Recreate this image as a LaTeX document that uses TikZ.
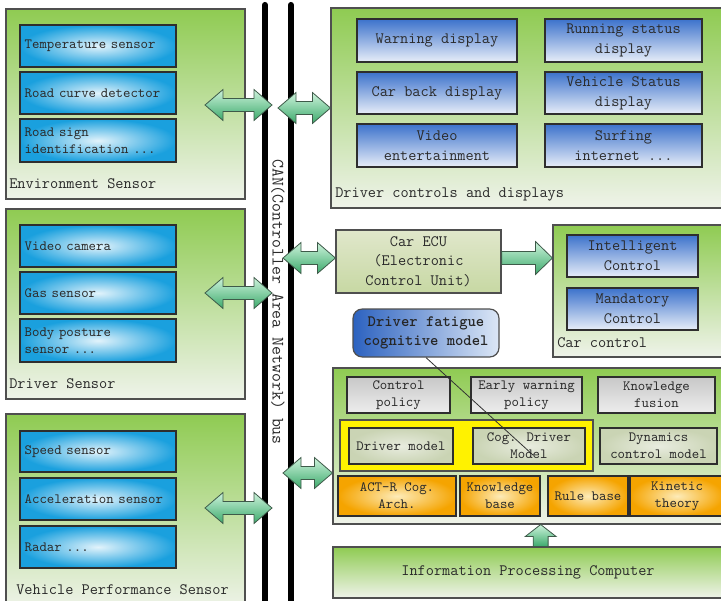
\documentclass[tikz,border=0pt]{standalone}
\usepackage{fontspec}
\usetikzlibrary{calc}

% palette
\definecolor{panelTop}{HTML}{8FCB52}
\definecolor{panelBot}{HTML}{EFF3EA}
\definecolor{panelLine}{HTML}{4F4F4F}
\definecolor{boxLine}{HTML}{2E2E2E}
\definecolor{sensorOut}{HTML}{1AA0DE}
\definecolor{sensorIn}{HTML}{E2F3FB}
\definecolor{dispTop}{HTML}{3C72CC}
\definecolor{dispBot}{HTML}{E8EEF8}
\definecolor{ecuTop}{HTML}{E0E7CB}
\definecolor{ecuBot}{HTML}{C7D8A3}
\definecolor{grayTop}{HTML}{C8C8C8}
\definecolor{grayBot}{HTML}{EDEDED}
\definecolor{sageOut}{HTML}{CAD4B4}
\definecolor{sageIn}{HTML}{E8ECDF}
\definecolor{orangeOut}{HTML}{F5A400}
\definecolor{orangeIn}{HTML}{FDEBB8}
\definecolor{fatLeft}{HTML}{2C62C0}
\definecolor{fatRight}{HTML}{DCE7F6}
\definecolor{arrowTop}{HTML}{CDF3DC}
\definecolor{arrowBot}{HTML}{3DAA6C}
\definecolor{arrowLine}{HTML}{3E5A49}
\definecolor{labelText}{HTML}{2A2A2A}

\newcommand\txtsmall{\ttfamily\fontsize{10.6}{12.8}\selectfont}
\newcommand\txtlarge{\ttfamily\fontsize{11.9}{14.8}\selectfont}

% box from (x1,y1) to (x2,y2): #1 style, #2 name, #3..#6 corners, #7 text
\newcommand\mkbox[7]{%
  \node[#1, minimum width={(#5-#3)*0.75pt}, minimum height={(#6-#4)*0.75pt}]
    (#2) at ({(#3+#5)/2},{(#4+#6)/2}) {#7};}

% horizontal two-headed block arrow between two points
\newcommand\dblarrow[2]{%
  \path[blockarrow] let \p1=(#1), \p2=(#2) in
    (\x1,\y1) -- (\x1+13.5pt,\y1+11.6pt) -- (\x1+13.5pt,\y1+4.9pt)
    -- (\x2-13.5pt,\y1+4.9pt) -- (\x2-13.5pt,\y1+11.6pt) -- (\x2,\y1)
    -- (\x2-13.5pt,\y1-11.6pt) -- (\x2-13.5pt,\y1-4.9pt)
    -- (\x1+13.5pt,\y1-4.9pt) -- (\x1+13.5pt,\y1-11.6pt) -- cycle;}

% horizontal one-headed block arrow, pointing to the second point
\newcommand\rarrow[2]{%
  \path[blockarrow] let \p1=(#1), \p2=(#2) in
    (\x1,\y1+4.9pt) -- (\x2-12.8pt,\y1+4.9pt) -- (\x2-12.8pt,\y1+12.4pt)
    -- (\x2,\y1) -- (\x2-12.8pt,\y1-12.4pt) -- (\x2-12.8pt,\y1-4.9pt)
    -- (\x1,\y1-4.9pt) -- cycle;}

% vertical one-headed block arrow, pointing up to the second point
\newcommand\uarrow[2]{%
  \path[blockarrow] let \p1=(#1), \p2=(#2) in
    (\x1-5.6pt,\y1) -- (\x1-5.6pt,\y2-9pt) -- (\x1-11.6pt,\y2-9pt)
    -- (\x1,\y2) -- (\x1+11.6pt,\y2-9pt) -- (\x1+5.6pt,\y2-9pt)
    -- (\x1+5.6pt,\y1) -- cycle;}

\tikzset{
  panel/.style={draw=panelLine, line width=0.8pt, top color=panelTop, bottom color=panelBot, inner sep=0pt},
  panellabel/.style={anchor=west, inner sep=0pt, font=\txtlarge, text=labelText},
  sensorbox/.style={draw=boxLine, line width=1pt, inner color=sensorIn, outer color=sensorOut,
    inner sep=0pt, text width=110pt, align=left, font=\txtsmall, text=labelText},
  dispbox/.style={draw=boxLine, line width=1pt, top color=dispTop, bottom color=dispBot,
    inner sep=0pt, align=center, font=\txtlarge, text=labelText},
  ecubox/.style={draw=panelLine, line width=0.9pt, top color=ecuTop, bottom color=ecuBot,
    inner sep=0pt, align=center, font=\txtlarge, text=labelText},
  graybox/.style={draw=boxLine, line width=1pt, top color=grayTop, bottom color=grayBot,
    inner sep=0pt, align=center, font=\txtsmall, text=labelText},
  sagebox/.style={draw=boxLine, line width=1pt, inner color=sageIn, outer color=sageOut,
    inner sep=0pt, align=center, font=\txtsmall, text=labelText},
  orangebox/.style={draw=boxLine, line width=1pt, inner color=orangeIn, outer color=orangeOut,
    inner sep=0pt, align=center, font=\txtsmall, text=labelText},
  yellowbox/.style={draw=panelLine, line width=0.9pt, fill=yellow, inner sep=0pt},
  fatiguebox/.style={draw=panelLine, line width=0.9pt, rounded corners=7pt, left color=fatLeft,
    right color=fatRight, inner sep=0pt, align=center, font=\txtlarge\bfseries, text=black!85},
  blockarrow/.style={draw=arrowLine, line width=0.6pt, top color=arrowTop, bottom color=arrowBot},
  busline/.style={line width=4.6pt, black, line cap=round},
}

\begin{document}
\begin{tikzpicture}[x=0.75pt, y=-0.75pt]
\useasboundingbox (0,0) rectangle (721,600);
\fill[white] (0,0) rectangle (721,600);
\clip (0,0) rectangle (721,600);

% ---------- sensor groups on the left ----------
\mkbox{panel}{env}{6}{9}{245}{199}{}
\mkbox{sensorbox}{temp}{20}{25}{176}{67}{Temperature sensor}
\mkbox{sensorbox}{curve}{20}{72}{176}{114}{Road curve detector}
\mkbox{sensorbox}{sign}{20}{119}{176}{162}{Road sign\\identification ...}
\node[panellabel] (envlabel) at (9,184) {Environment Sensor};

\mkbox{panel}{drv}{6}{209}{245}{399}{}
\mkbox{sensorbox}{cam}{20}{225}{176}{267}{Video camera}
\mkbox{sensorbox}{gas}{20}{272}{176}{314}{Gas sensor}
\mkbox{sensorbox}{body}{20}{319}{176}{362}{Body posture\\sensor ...}
\node[panellabel] (drvlabel) at (9,384) {Driver Sensor};

\mkbox{panel}{veh}{6}{414}{245}{610}{}
\mkbox{sensorbox}{speed}{20}{431}{176}{472}{Speed sensor}
\mkbox{sensorbox}{accel}{20}{478}{176}{520}{Acceleration sensor}
\mkbox{sensorbox}{radar}{20}{526}{176}{568}{Radar ...}
\node[panellabel] (vehlabel) at (16,590) {Vehicle Performance Sensor};

% ---------- driver controls and displays ----------
\mkbox{panel}{disp}{331}{8}{724}{208}{}
\mkbox{dispbox}{warn}{357}{19}{517}{62}{Warning display}
\mkbox{dispbox}{run}{545}{19}{702}{62}{Running status\\display}
\mkbox{dispbox}{back}{357}{72}{517}{114}{Car back display}
\mkbox{dispbox}{vstat}{545}{72}{702}{114}{Vehicle Status\\display}
\mkbox{dispbox}{vent}{357}{124}{517}{167}{Video\\entertainment}
\mkbox{dispbox}{surf}{545}{124}{702}{167}{Surfing\\internet ...}
\node[panellabel] (displabel) at (335,194) {Driver controls and displays};

% ---------- ECU and car control ----------
\mkbox{ecubox}{ecu}{336}{230}{501}{293}{Car ECU\\(Electronic\\Control Unit)}
\mkbox{panel}{carctl}{553}{225}{724}{357}{}
\mkbox{dispbox}{intel}{567}{235}{698}{277}{Intelligent\\Control}
\mkbox{dispbox}{mand}{567}{288}{698}{330}{Mandatory\\Control}
\node[panellabel] (carlabel) at (557,343) {Car control};

\mkbox{fatiguebox}{fatigue}{353}{309}{499}{357}{Driver fatigue\\cognitive model}

% ---------- cognitive model block ----------
\mkbox{panel}{info}{333}{368}{724}{524}{}
\mkbox{graybox}{ctrl}{347}{377}{450}{413}{Control\\policy}
\mkbox{graybox}{early}{471}{377}{582}{413}{Early warning\\policy}
\mkbox{graybox}{fusion}{598}{377}{715}{413}{Knowledge\\fusion}
\mkbox{yellowbox}{models}{340}{420}{593}{471}{}
\mkbox{sagebox}{drvmodel}{349}{428}{453}{464}{Driver model}
\mkbox{sagebox}{cog}{473}{428}{585}{464}{Cog. Driver\\Model}
\mkbox{sagebox}{dyn}{600}{428}{717}{464}{Dynamics\\control model}
\mkbox{orangebox}{actr}{338}{476}{456}{516}{ACT-R Cog.\\Arch.}
\mkbox{orangebox}{kb}{460}{476}{540}{516}{Knowledge\\base}
\mkbox{orangebox}{rule}{548}{476}{628}{516}{Rule base}
\mkbox{orangebox}{kin}{630}{476}{724}{516}{Kinetic\\theory}

\node[panel, minimum width={390*0.75pt}, minimum height={51*0.75pt}, font=\txtlarge, text=labelText]
  (ipc) at (528,572.5) {Information Processing Computer};

% ---------- CAN bus ----------
\coordinate (bus1top) at (265,5);
\coordinate (bus1bot) at (265,620);
\coordinate (bus2top) at (291,5);
\coordinate (bus2bot) at (291,620);
\draw[busline] (bus1top) -- (bus1bot);
\draw[busline] (bus2top) -- (bus2bot);
\node[rotate=-90, inner sep=0pt, font=\ttfamily\fontsize{13}{15}\selectfont, text=labelText]
  (canlabel) at (278,302) {CAN(Controller Area Network) bus};

% ---------- block arrows ----------
\coordinate (envtip) at (205,105);
\coordinate (envbus) at (272,105);
\coordinate (drvtip) at (205,293);
\coordinate (drvbus) at (272,293);
\coordinate (vehtip) at (205,508);
\coordinate (vehbus) at (272,508);
\coordinate (dispbus) at (278,108);
\coordinate (ecubus) at (283,258);
\coordinate (infobus) at (283,473);

\dblarrow{envtip}{envbus}
\dblarrow{drvtip}{drvbus}
\dblarrow{vehtip}{vehbus}
\dblarrow{dispbus}{disp.west |- dispbus}
\dblarrow{ecubus}{ecu.west |- ecubus}
\dblarrow{infobus}{info.west |- infobus}
\rarrow{ecu.east |- ecubus}{carctl.west |- ecubus}
\uarrow{ipc.north -| kb.south east}{info.south -| kb.south east}

% link from the fatigue model to the cognitive driver model
\coordinate (coglink) at ($(cog.center)+(4,9)$);
\draw[line width=0.6pt, black!80] (fatigue.south) -- (coglink);
\end{tikzpicture}
\end{document}
